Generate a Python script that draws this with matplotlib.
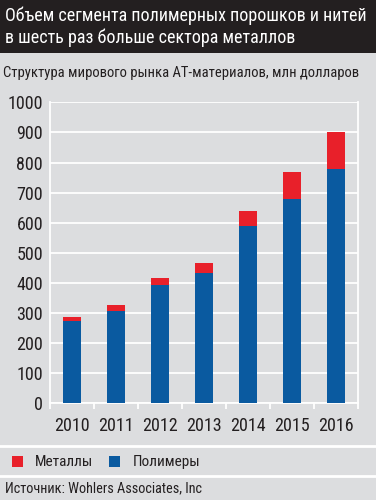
import matplotlib.pyplot as plt
from matplotlib.patches import Rectangle
from matplotlib.lines import Line2D

plt.rcParams['font.family'] = ['Roboto Condensed', 'DejaVu Sans']

# data
years = ['2010', '2011', '2012', '2013', '2014', '2015', '2016']
polymers = [273, 308, 393, 432, 589, 678, 777]
metals = [14, 19, 22, 33, 50, 90, 123]
y_ticks = [0, 100, 200, 300, 400, 500, 600, 700, 800, 900, 1000]

blue = '#0a5aa0'
red = '#e8202a'
bg = '#dcdddf'
dark = '#231f20'

fig = plt.figure(figsize=(3.76, 5.0), dpi=100, facecolor=bg)

# dark title band
fig.patches.append(Rectangle((0, 1 - 53 / 500), 1, 53 / 500, transform=fig.transFigure,
                             facecolor=dark, edgecolor='none', zorder=0))
fig.text(5 / 376, 1 - 16 / 500, 'Объем сегмента полимерных порошков и нитей',
         color='white', fontsize=13, va='center', ha='left')
fig.text(5 / 376, 1 - 38 / 500, 'в шесть раз больше сектора металлов',
         color='white', fontsize=13, va='center', ha='left')
fig.text(3 / 376, 1 - 73 / 500, 'Структура мирового рынка АТ-материалов, млн долларов',
         color='#231f20', fontsize=10.5, va='center', ha='left')

ax = fig.add_axes([50 / 376, 1 - 403.3 / 500, 308 / 376, 301 / 500])
ax.set_facecolor(bg)
x = range(len(years))
ax.bar(x, polymers, width=0.4, color=blue, zorder=3)
ax.bar(x, metals, bottom=polymers, width=0.4, color=red, zorder=3)

ax.set_xlim(-0.5, len(years) - 0.5)
ax.set_ylim(0, 1000)
ax.set_yticks(y_ticks)
ax.set_yticklabels([str(v) for v in y_ticks], fontsize=13, color='#231f20')
ax.yaxis.grid(True, color='white', linewidth=1.3, zorder=0)
ax.set_xticks(list(x))
ax.set_xticklabels(years, fontsize=13, color='#231f20')
ax.tick_params(axis='x', length=0, pad=10)
ax.tick_params(axis='y', length=0, pad=5)
ax.set_xticks([i + 0.5 for i in range(-1, len(years))], minor=True)
ax.tick_params(axis='x', which='minor', length=4, color='white', width=1.3, direction='out')
for side in ['left', 'right', 'bottom']:
    ax.spines[side].set_color('white')
    ax.spines[side].set_linewidth(1.3)
ax.spines['top'].set_visible(False)

# separator lines
for yy in [446, 476]:
    fig.add_artist(Line2D([0, 1], [1 - yy / 500] * 2, transform=fig.transFigure,
                          color='white', linewidth=2))

# legend
fig.patches.append(Rectangle((12 / 376, 1 - 467 / 500), 11 / 376, 11 / 500,
                             transform=fig.transFigure, facecolor=red, edgecolor='none'))
fig.text(35 / 376, 1 - 462 / 500, 'Металлы', fontsize=11, va='center', color='#231f20')
fig.patches.append(Rectangle((109 / 376, 1 - 467 / 500), 11 / 376, 11 / 500,
                             transform=fig.transFigure, facecolor=blue, edgecolor='none'))
fig.text(133 / 376, 1 - 462 / 500, 'Полимеры', fontsize=11, va='center', color='#231f20')

fig.text(5 / 376, 1 - 488 / 500, 'Источник: Wohlers Associates, Inc', fontsize=10.3,
         va='center', color='#231f20')

fig.savefig('out.png', dpi=100, facecolor=bg)
